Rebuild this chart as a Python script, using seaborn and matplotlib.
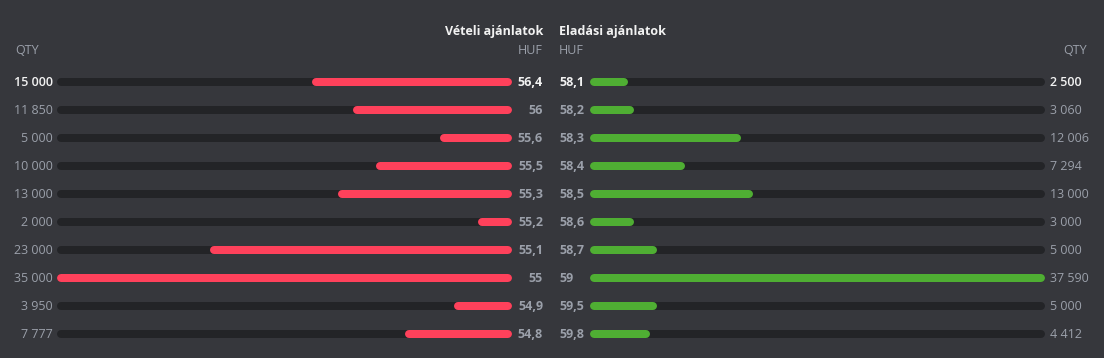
import matplotlib
matplotlib.use("Agg")
import matplotlib.pyplot as plt
import matplotlib.transforms as mtransforms
import seaborn as sns
import pandas as pd

# order book data
buy_price = ["56,4", "56", "55,6", "55,5", "55,3", "55,2", "55,1", "55", "54,9", "54,8"]
buy_qty = [15000, 11850, 5000, 10000, 13000, 2000, 23000, 35000, 3950, 7777]
sell_price = ["58,1", "58,2", "58,3", "58,4", "58,5", "58,6", "58,7", "59", "59,5", "59,8"]
sell_qty = [2500, 3060, 12006, 7294, 13000, 3000, 5000, 37590, 5000, 4412]

buy_title = "Vételi ajánlatok"
sell_title = "Eladási ajánlatok"

BG = "#36373c"
TRACK = "#232427"
RED = "#ff415b"
GREEN = "#4fae33"
GRAY = "#9ba0aa"
WHITE = "#f2f2f2"

W, H = 1104, 358

sns.set_theme(style="dark")
plt.rcParams["font.family"] = ["Open Sans", "DejaVu Sans"]
plt.rcParams["font.size"] = 9
plt.rcParams["path.simplify"] = False


def fmt_qty(q):
    return f"{q:,}".replace(",", " ")


def draw_side(ax, prices, qtys, color):
    df = pd.DataFrame({"price": prices, "qty": qtys, "track": [max(qtys)] * len(qtys)})
    sns.barplot(data=df, x="track", y="price", order=prices, orient="h",
                color=TRACK, width=1e-3, ax=ax)
    sns.barplot(data=df, x="qty", y="price", order=prices, orient="h",
                color=color, width=1e-3, ax=ax)
    # thin bars with a thick round-joined outline -> rounded pill shape
    for i, p in enumerate(ax.patches):
        c = TRACK if i < len(prices) else color
        p.set_edgecolor(c)
        p.set_facecolor(c)
        p.set_linewidth(8 * 72 / 100)
        p.set_joinstyle("round")
        p.set_capstyle("round")
        p.set_clip_on(False)
    ax.set_ylim(len(prices) - 0.5, -0.5)
    ax.axis("off")


fig = plt.figure(figsize=(W / 100, H / 100), dpi=100, facecolor=BG)

ax_top = 68
ax_h = 280
bottom = (H - ax_top - ax_h) / H

ax_l = fig.add_axes([61 / W, bottom, (508 - 61) / W, ax_h / H])
ax_r = fig.add_axes([594 / W, bottom, (1041 - 594) / W, ax_h / H])

draw_side(ax_l, buy_price, buy_qty, RED)
ax_l.set_xlim(max(buy_qty), 0)
draw_side(ax_r, sell_price, sell_qty, GREEN)
ax_r.set_xlim(0, max(sell_qty))

tl = mtransforms.blended_transform_factory(fig.transFigure, ax_l.transData)
tr = mtransforms.blended_transform_factory(fig.transFigure, ax_r.transData)

for i, (p, q) in enumerate(zip(buy_price, buy_qty)):
    c = WHITE if i == 0 else GRAY
    ax_l.text(53 / W, i, fmt_qty(q), transform=tl, ha="right", va="center",
              color=c, weight="semibold" if i == 0 else "normal")
    ax_l.text(543 / W, i, p, transform=tl, ha="right", va="center",
              color=c, weight="bold")

for i, (p, q) in enumerate(zip(sell_price, sell_qty)):
    c = WHITE if i == 0 else GRAY
    ax_r.text(559 / W, i, p, transform=tr, ha="left", va="center",
              color=c, weight="bold")
    ax_r.text(1050 / W, i, fmt_qty(q), transform=tr, ha="left", va="center",
              color=c, weight="semibold" if i == 0 else "normal")

# headers
fig.text(543 / W, 1 - 31 / H, buy_title, ha="right", va="center", color=WHITE, weight="bold")
fig.text(559 / W, 1 - 31 / H, sell_title, ha="left", va="center", color=WHITE, weight="bold")
fig.text(15 / W, 1 - 50 / H, "QTY", ha="left", va="center", color=GRAY)
fig.text(543 / W, 1 - 50 / H, "HUF", ha="right", va="center", color=GRAY)
fig.text(559 / W, 1 - 50 / H, "HUF", ha="left", va="center", color=GRAY)
fig.text(1087 / W, 1 - 50 / H, "QTY", ha="right", va="center", color=GRAY)

fig.savefig("out.png", dpi=100, facecolor=BG)
